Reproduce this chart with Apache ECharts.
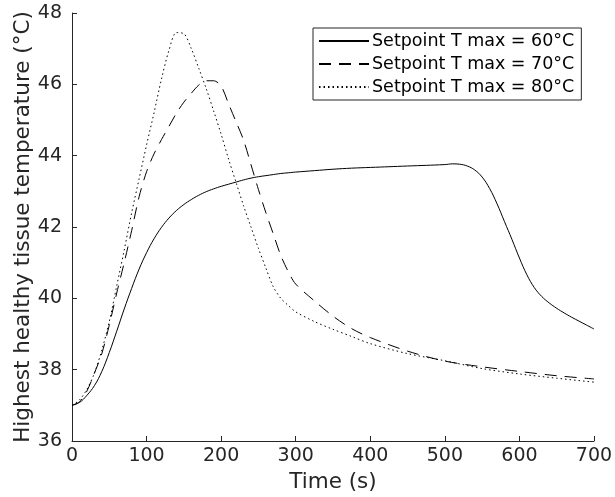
<!DOCTYPE html>
<html>
<head>
<meta charset="utf-8">
<script src="https://cdn.jsdelivr.net/npm/echarts@6/dist/echarts.min.js"></script>
<style>html,body{margin:0;padding:0;background:#fff;}#chart{width:615px;height:497px;}</style>
</head>
<body>
<div id="chart"></div>
<script>
const seriesNames = ['Setpoint T max = 60°C', 'Setpoint T max = 70°C', 'Setpoint T max = 80°C'];
const time60 = [0,10,20,30,40,50,60,70,80,90,100,110,120,130,140,150,160,170,180,190,200,210,220,230,240,250,260,270,280,290,300,325,350,375,400,450,500,510,520,530,540,550,560,570,580,590,600,610,620,630,640,650,660,670,680,690,700];
const temp60 = [37.0,37.08,37.28,37.55,37.95,38.48,39.08,39.7,40.28,40.82,41.28,41.67,41.99,42.25,42.46,42.63,42.77,42.89,42.99,43.07,43.14,43.2,43.26,43.32,43.37,43.41,43.44,43.47,43.5,43.52,43.54,43.58,43.62,43.65,43.67,43.71,43.75,43.77,43.76,43.71,43.6,43.4,43.08,42.65,42.15,41.65,41.13,40.66,40.3,40.05,39.87,39.72,39.59,39.47,39.36,39.25,39.14];
const time7080 = [0,10,20,30,40,50,60,70,80,90,100,110,120,130,140,150,160,170,180,190,200,210,220,230,240,250,260,270,280,290,300,325,350,375,400,450,500,550,600,650,700];
const temp70 = [37.0,37.1,37.4,37.9,38.45,39.25,40.15,41.0,41.9,42.85,43.55,44.05,44.45,44.82,45.19,45.5,45.75,45.98,46.1,46.1,45.95,45.45,44.95,44.44,43.75,43.05,42.4,41.8,41.2,40.75,40.4,39.93,39.5,39.15,38.9,38.52,38.24,38.08,37.95,37.83,37.74];
const temp80 = [37.0,37.15,37.45,37.9,38.55,39.35,40.35,41.35,42.4,43.35,44.3,45.2,46.15,46.95,47.45,47.42,47.0,46.45,45.88,45.25,44.6,43.9,43.25,42.6,42.0,41.4,40.85,40.32,40.0,39.8,39.62,39.35,39.13,38.93,38.73,38.45,38.25,38.03,37.88,37.76,37.65];
const xTicks = [0,100,200,300,400,500,600,700];
const yTicks = [36,38,40,42,44,46,48];

const pair = (xs, ys) => xs.map((x, i) => [x, ys[i]]);
const axisCol = '#262626';
const font = 'DejaVu Sans';

const chart = echarts.init(document.getElementById('chart'), null, {renderer: 'canvas'});
chart.setOption({
  animation: false,
  backgroundColor: '#fff',
  textStyle: {fontFamily: font},
  grid: {left: 72, right: 21, top: 13, bottom: 56, containLabel: false, outerBoundsMode: 'none'},
  legend: {
    orient: 'vertical', left: 313, top: 28,
    padding: [4, 7, 4, 5],
    itemGap: 5,
    itemWidth: 50, itemHeight: 12,
    borderColor: axisCol, borderWidth: 1,
    backgroundColor: '#fff',
    itemStyle: {opacity: 0},
    textStyle: {fontFamily: font, fontSize: 17.5, color: '#000', padding: [0, 0, 0, -2]},
    data: seriesNames.map(n => ({name: n}))
  },
  xAxis: {
    type: 'value', min: 0, max: 700, interval: 100,
    name: 'Time (s)', nameLocation: 'middle', nameGap: 30, nameMoveOverlap: false,
    nameTextStyle: {fontFamily: font, fontSize: 21.5, color: axisCol},
    axisLine: {show: true, lineStyle: {color: axisCol, width: 1}},
    axisTick: {show: true, inside: true, length: 5, lineStyle: {color: axisCol}},
    axisLabel: {fontFamily: font, fontSize: 19, color: axisCol, margin: 6,
      formatter: v => xTicks.includes(v) ? String(v) : ''},
    splitLine: {show: false}
  },
  yAxis: {
    type: 'value', min: 36, max: 48, interval: 2,
    name: 'Highest healthy tissue temperature (°C)', nameLocation: 'middle', nameGap: 38, nameMoveOverlap: false,
    nameTextStyle: {fontFamily: font, fontSize: 21.5, color: axisCol},
    axisLine: {show: true, lineStyle: {color: axisCol, width: 1}},
    axisTick: {show: true, inside: true, length: 5, lineStyle: {color: axisCol}},
    axisLabel: {fontFamily: font, fontSize: 19, color: axisCol, margin: 10,
      formatter: v => yTicks.includes(v) ? String(v) : ''},
    splitLine: {show: false}
  },
  series: [
    {name: seriesNames[0], type: 'line', data: pair(time60, temp60), symbol: 'none', smooth: 0.4,
     lineStyle: {color: '#000', width: 1, type: 'solid'}, itemStyle: {color: '#000'}},
    {name: seriesNames[1], type: 'line', data: pair(time7080, temp70), symbol: 'none', smooth: 0.3,
     lineStyle: {color: '#000', width: 1, type: [12, 8]}, itemStyle: {color: '#000'}},
    {name: seriesNames[2], type: 'line', data: pair(time7080, temp80), symbol: 'none', smooth: 0.3,
     lineStyle: {color: '#000', width: 1, type: [1.5, 3]}, itemStyle: {color: '#000'}}
  ]
});
</script>
</body>
</html>
